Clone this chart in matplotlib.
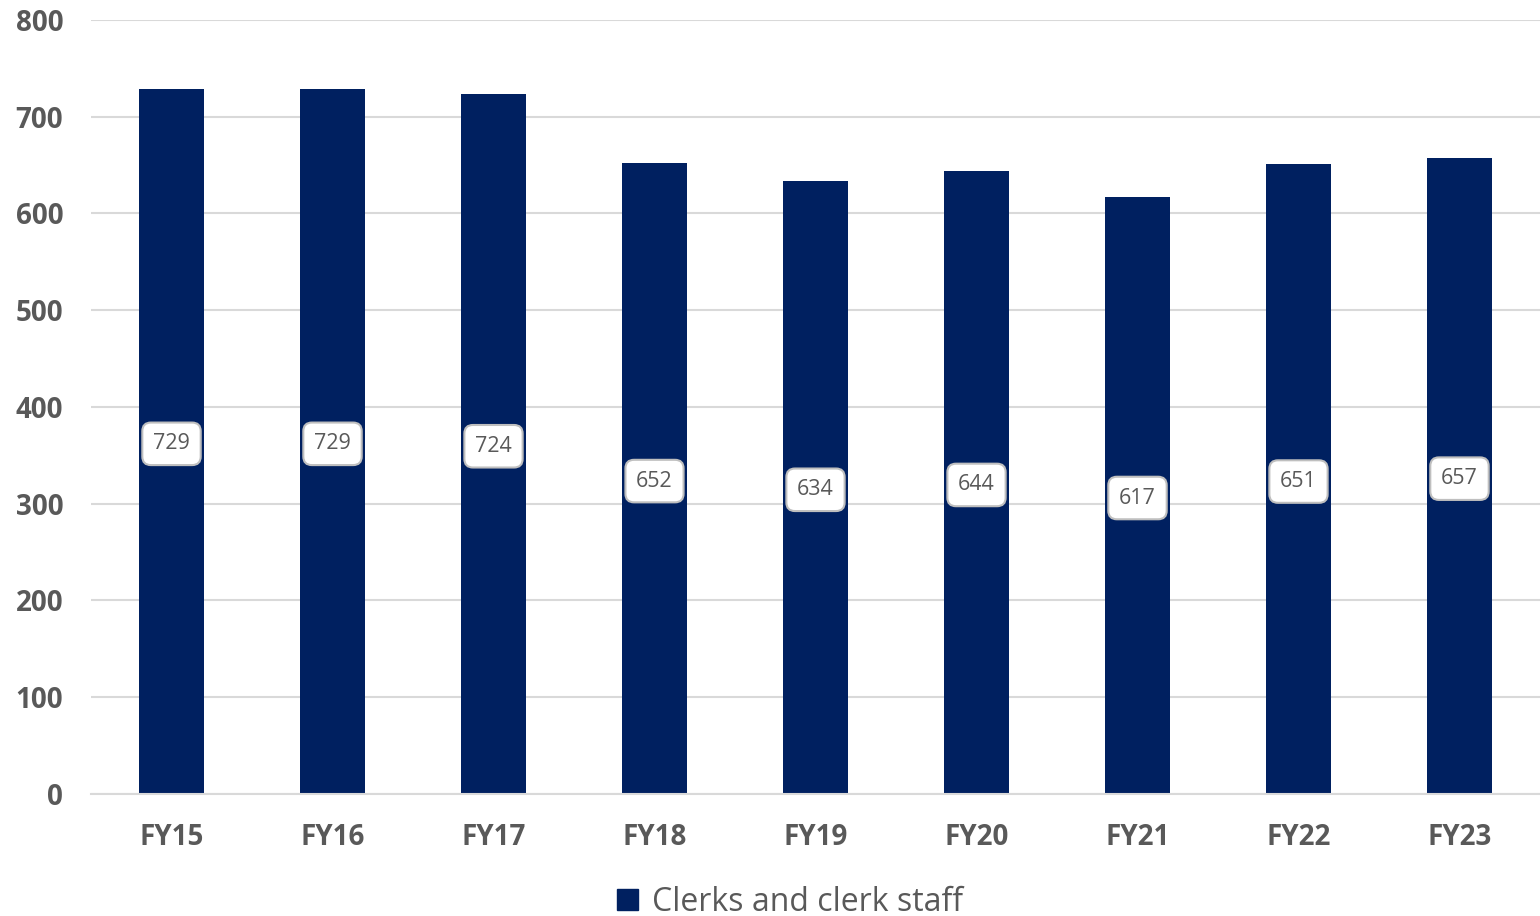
import matplotlib.pyplot as plt
from matplotlib.patches import Patch

years = ["FY15", "FY16", "FY17", "FY18", "FY19", "FY20", "FY21", "FY22", "FY23"]
clerks = [729, 729, 724, 652, 634, 644, 617, 651, 657]

plt.rcParams['font.family'] = ['Open Sans', 'DejaVu Sans']
gray = '#595959'
navy = '#002060'

fig = plt.figure(figsize=(15.4, 9.16), dpi=100)
ax = fig.add_axes([0.0591, 0.1332, 0.9409, 0.845])

x = range(len(years))
ax.bar(x, clerks, width=0.4, color=navy, zorder=2)

for i, v in enumerate(clerks):
    ax.text(i, v / 2, str(v), ha='center', va='center_baseline', fontsize=15.5, color=gray,
            bbox=dict(boxstyle='round,pad=0.5,rounding_size=0.4', fc='white',
                      ec='#bfbfbf', lw=1.5), zorder=3)

ax.set_xlim(-0.5, len(years) - 0.5)
ax.set_ylim(0, 800)
ax.set_yticks(range(0, 801, 100))
ax.set_xticks(list(x))
ax.set_xticklabels(years)
ax.yaxis.grid(True, color='#d9d9d9', lw=1.5, zorder=0)
ax.set_axisbelow(True)
for s in ['top', 'right', 'left']:
    ax.spines[s].set_visible(False)
ax.spines['bottom'].set_color('#d9d9d9')
ax.spines['bottom'].set_linewidth(1.5)
ax.tick_params(axis='both', length=0, labelsize=20, labelcolor=gray)
ax.tick_params(axis='x', pad=21)
ax.tick_params(axis='y', pad=20)
for lbl in ax.get_xticklabels() + ax.get_yticklabels():
    lbl.set_fontweight('bold')

fig.legend(handles=[Patch(color=navy, label='Clerks and clerk staff')],
           loc='center', bbox_to_anchor=(0.513, 0.015), frameon=False,
           fontsize=23, labelcolor=gray, handlelength=0.65, handleheight=0.65,
           handletextpad=0.45)

plt.savefig("out.png", dpi=100)
